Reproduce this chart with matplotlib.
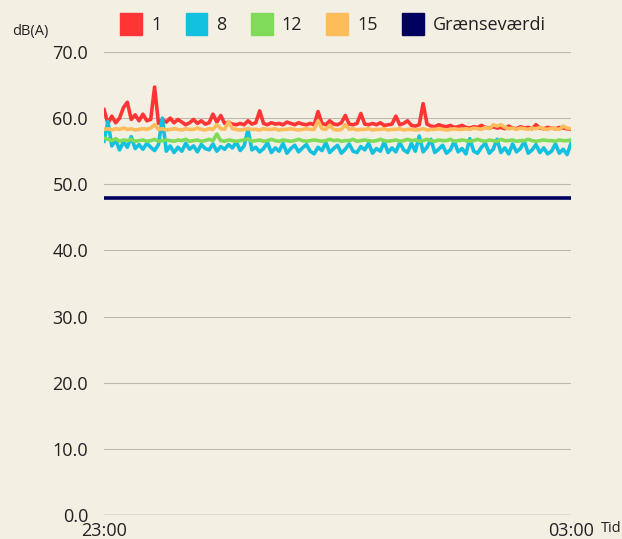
import matplotlib
matplotlib.use("Agg")
import matplotlib.pyplot as plt
from matplotlib.patches import Patch
import pandas as pd

plt.rcParams['font.family'] = ['Open Sans', 'DejaVu Sans']

times = pd.date_range("2023-01-01 23:00", "2023-01-02 03:00", freq="2min")

s1 = [61.3,59.2,60.3,59.3,60.0,61.6,62.4,59.8,60.5,59.6,60.6,59.6,59.8,64.7,59.2,59.8,59.4,60.0,59.3,59.8,
      59.4,59.0,59.3,59.8,59.2,59.6,59.1,59.3,60.6,59.4,60.4,59.2,59.4,59.1,59.0,59.2,59.0,59.6,59.1,59.3,
      61.1,59.2,59.0,59.3,59.1,59.2,59.0,59.4,59.2,59.0,59.3,59.1,59.0,59.2,59.0,61.0,59.2,59.0,59.6,59.1,
      59.0,59.3,60.4,59.1,59.0,59.2,60.7,59.1,59.0,59.2,59.0,59.3,58.9,59.0,59.1,60.3,59.0,59.2,59.6,58.9,
      58.8,59.0,62.2,59.1,58.8,58.7,59.0,58.8,58.7,58.9,58.6,58.7,58.9,58.6,58.5,58.7,58.6,58.9,58.6,58.5,
      58.7,58.5,58.6,58.4,58.8,58.5,58.4,58.7,58.5,58.6,58.4,59.0,58.5,58.4,58.6,58.5,58.4,58.6,58.5,58.4,58.3]

s8 = [56.5,59.5,55.8,56.7,55.2,56.4,55.6,57.2,55.4,56.0,55.3,56.2,55.6,55.1,56.0,60.0,55.0,55.8,54.8,55.6,
      55.0,56.2,55.3,55.8,54.9,56.0,55.4,55.2,56.1,55.0,55.7,55.3,56.0,55.5,56.4,55.1,55.8,58.3,55.2,55.6,
      54.9,55.4,56.3,54.8,55.5,55.0,56.2,54.7,55.4,55.9,54.9,55.5,56.0,55.0,54.6,55.6,55.1,56.3,54.8,55.4,
      55.9,54.7,55.3,56.1,55.0,54.8,55.7,55.2,56.2,54.7,55.4,55.0,56.4,54.8,55.5,54.9,56.3,55.2,54.8,56.2,
      55.0,57.3,54.9,55.6,56.8,54.8,55.3,55.9,54.7,55.2,56.5,54.9,55.4,54.6,56.9,55.0,54.7,55.6,56.2,54.7,
      55.3,56.8,54.8,55.5,54.6,56.1,54.9,55.4,56.5,54.7,55.2,56.0,54.8,55.5,54.6,55.0,56.1,54.7,55.3,54.5,56.2]

s12 = [57.0,56.8,56.6,56.9,56.5,56.7,56.6,56.8,56.5,56.6,56.7,56.5,56.6,56.8,56.5,56.6,56.7,56.6,56.5,56.7,
       56.6,56.8,56.5,56.6,56.7,56.5,56.6,56.8,56.6,57.6,56.6,56.5,56.7,56.6,56.5,56.6,56.7,56.9,56.5,56.6,
       56.7,56.5,56.6,56.8,56.6,56.5,56.7,56.6,56.5,56.6,56.8,56.6,56.5,56.6,56.7,56.6,56.5,56.6,56.8,56.6,
       56.7,56.5,56.6,56.6,56.8,56.5,56.6,56.7,56.6,56.5,56.6,56.8,56.6,56.5,56.6,56.7,56.5,56.6,56.8,56.6,
       56.7,56.5,56.6,56.8,56.6,56.5,56.7,56.6,56.6,56.8,56.5,56.6,56.7,56.6,56.5,56.6,56.8,56.6,56.5,56.7,
       56.6,56.5,56.8,56.6,56.6,56.7,56.5,56.6,56.6,56.8,56.6,56.5,56.6,56.7,56.6,56.6,56.5,56.7,56.6,56.6,56.7]

s15 = [58.3,58.4,58.2,58.4,58.3,58.5,58.3,58.4,58.2,58.3,58.4,58.3,58.5,59.0,58.3,58.4,58.2,58.3,58.4,58.3,
       58.2,58.4,58.3,58.3,58.5,58.3,58.2,58.4,58.3,59.0,58.4,58.3,59.5,58.4,58.3,58.2,58.3,58.4,58.3,58.3,
       58.2,58.4,58.3,58.3,58.4,58.2,58.3,58.3,58.4,58.3,58.2,58.3,58.4,58.3,58.3,59.6,58.4,58.3,58.9,58.3,
       58.2,58.3,59.0,58.3,58.4,58.2,58.3,58.3,58.4,58.2,58.3,58.3,58.4,58.2,58.3,58.3,58.4,58.2,58.3,58.3,
       58.2,58.3,58.4,58.2,58.3,58.3,58.4,58.3,58.2,58.3,58.4,58.3,58.3,58.4,58.3,58.5,58.4,58.3,58.6,58.4,
       59.0,58.8,59.0,58.6,58.4,58.5,58.3,58.5,58.4,58.3,58.5,58.4,58.6,58.4,58.3,58.5,58.4,58.3,58.8,58.5,58.4]

limit = 48.0

series_names = ["1", "8", "12", "15"]
series_colors = ["#ff3535", "#12c0e0", "#80dc58", "#ffbc5a"]
limit_name = "Grænseværdi"
limit_color = "#00005f"

y_ticks = [0, 10, 20, 30, 40, 50, 60, 70]
x_labels = ["23:00", "03:00"]

bg = "#f3efe3"
fig = plt.figure(figsize=(6.22, 5.39), dpi=100, facecolor=bg)
ax = fig.add_axes([104/622, 1-515/539, (571-104)/622, (515-52)/539], facecolor=bg)

for data, c in zip([s1, s8, s12, s15], series_colors):
    ax.plot(times, data, color=c, lw=2.6, solid_joinstyle='round', zorder=3)
ax.plot([times[0], times[-1]], [limit, limit], color=limit_color, lw=2.6, zorder=4)

ax.set_xlim(times[0], times[-1])
ax.set_ylim(0, 70)
ax.set_yticks(y_ticks)
ax.set_yticklabels([f"{v:.1f}" for v in y_ticks], fontsize=13, color="#222222")
ax.set_xticks([times[0], times[-1]])
ax.set_xticklabels(x_labels, fontsize=13, color="#222222")
ax.tick_params(axis='both', length=0)
ax.tick_params(axis='y', pad=11.5)
ax.tick_params(axis='x', pad=5)
for sp in ax.spines.values():
    sp.set_visible(False)
for v in y_ticks:
    ax.axhline(v, color="#555555" if v == 0 else "#bdb9ae", lw=0.9 if v == 0 else 0.8, zorder=1)

fig.text(12/622, 1-31/539, "dB(A)", fontsize=10.5, color="#222222", va="center", ha="left")
fig.text(601/622, 1-529/539, "Tid", fontsize=10.5, color="#222222", va="center", ha="left")

handles = [Patch(facecolor=c, edgecolor=c) for c in series_colors] + [Patch(facecolor=limit_color, edgecolor=limit_color)]
labels = series_names + [limit_name]
leg = fig.legend(handles, labels, loc="center", bbox_to_anchor=(333/622, 1-24/539), ncol=5,
                 frameon=False, fontsize=13, handlelength=1.2, handleheight=1.5,
                 handletextpad=0.5, columnspacing=1.35, labelcolor="#222222")

fig.savefig("out.png", dpi=100, facecolor=bg)
